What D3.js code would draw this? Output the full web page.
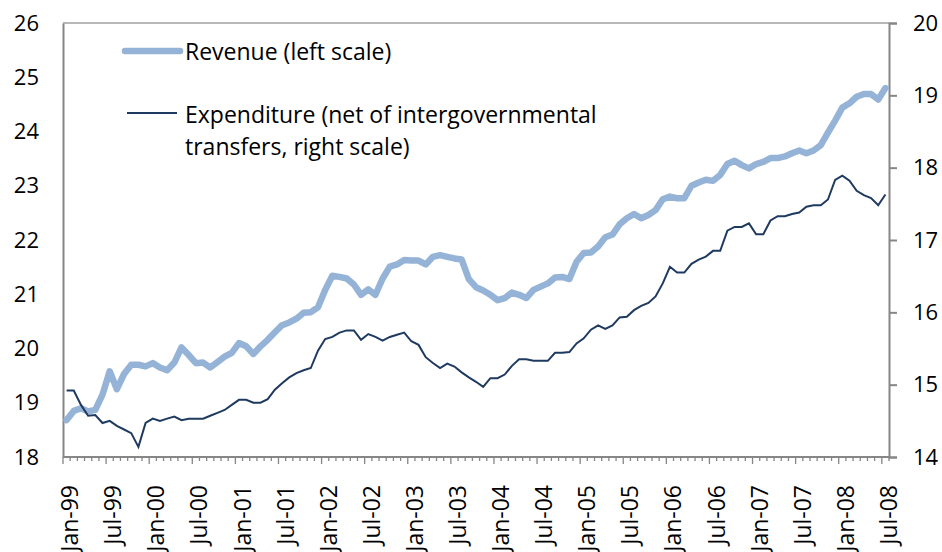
<!DOCTYPE html>
<html>
<head>
<meta charset="utf-8">
<script src="https://cdn.jsdelivr.net/npm/d3@7"></script>
<style>
  body { margin: 0; background: #fff; }
  svg text { font-family: "Open Sans", sans-serif; fill: #000; }
</style>
</head>
<body>
<div id="chart"></div>
<script>
// Monthly series, Jan-99 .. Jul-08
const revenue = [
  18.68, 18.85, 18.90, 18.84, 18.87, 19.15, 19.58, 19.25, 19.53, 19.70,
  19.70, 19.67, 19.73, 19.65, 19.60, 19.74, 20.02, 19.88, 19.73, 19.74,
  19.65, 19.75, 19.85, 19.92, 20.10, 20.04, 19.90, 20.04, 20.16, 20.30,
  20.43, 20.48, 20.55, 20.66, 20.67, 20.76, 21.08, 21.34, 21.32, 21.29,
  21.18, 20.99, 21.09, 20.99, 21.29, 21.51, 21.55, 21.63, 21.62, 21.62,
  21.55, 21.69, 21.72, 21.69, 21.66, 21.64, 21.28, 21.13, 21.07, 20.99,
  20.89, 20.93, 21.03, 20.99, 20.93, 21.08, 21.14, 21.20, 21.31, 21.32,
  21.28, 21.60, 21.76, 21.77, 21.88, 22.05, 22.10, 22.29, 22.40, 22.48,
  22.40, 22.46, 22.55, 22.75, 22.80, 22.77, 22.77, 23.00, 23.06, 23.11,
  23.09, 23.20, 23.40, 23.46, 23.38, 23.32, 23.40, 23.44, 23.51, 23.51,
  23.54, 23.60, 23.65, 23.60, 23.65, 23.75, 23.98, 24.20, 24.44, 24.52,
  24.64, 24.69, 24.69, 24.59, 24.80
];
const expenditure = [
  14.92, 14.92, 14.72, 14.57, 14.58, 14.47, 14.50, 14.43, 14.38, 14.33,
  14.14, 14.47, 14.53, 14.50, 14.53, 14.56, 14.51, 14.53, 14.53, 14.53,
  14.57, 14.61, 14.65, 14.72, 14.79, 14.79, 14.75, 14.75, 14.80, 14.93,
  15.02, 15.10, 15.16, 15.20, 15.23, 15.47, 15.63, 15.66, 15.72, 15.75,
  15.75, 15.62, 15.70, 15.66, 15.61, 15.66, 15.69, 15.72, 15.60, 15.55,
  15.38, 15.30, 15.23, 15.29, 15.25, 15.17, 15.10, 15.04, 14.97, 15.09,
  15.09, 15.14, 15.26, 15.35, 15.35, 15.33, 15.33, 15.33, 15.44, 15.44,
  15.45, 15.57, 15.64, 15.76, 15.82, 15.77, 15.82, 15.93, 15.94, 16.03,
  16.09, 16.13, 16.22, 16.40, 16.63, 16.55, 16.55, 16.67, 16.73, 16.77,
  16.85, 16.85, 17.13, 17.18, 17.18, 17.23, 17.08, 17.08, 17.27, 17.33,
  17.33, 17.36, 17.38, 17.46, 17.48, 17.48, 17.56, 17.83, 17.89, 17.82,
  17.68, 17.62, 17.58, 17.48, 17.63
];
const tickLabels = ["Jan-99", "Jul-99", "Jan-00", "Jul-00", "Jan-01", "Jul-01",
  "Jan-02", "Jul-02", "Jan-03", "Jul-03", "Jan-04", "Jul-04", "Jan-05", "Jul-05",
  "Jan-06", "Jul-06", "Jan-07", "Jul-07", "Jan-08", "Jul-08"];
const leftTicks = [18, 19, 20, 21, 22, 23, 24, 25, 26];
const rightTicks = [14, 15, 16, 17, 18, 19, 20];

const width = 942;
const height = 552;
const margin = { top: 23, right: 53, bottom: 95, left: 63 };

// one category per month
const months = d3.timeMonth.range(new Date(1999, 0, 1), new Date(2008, 7, 1));
const fmt = d3.timeFormat("%b-%y");

const svg = d3.select("#chart")
  .append("svg")
  .attr("width", width)
  .attr("height", height);

const x = d3.scaleBand()
  .domain(months.map(fmt))
  .range([margin.left, width - margin.right])
  .padding(0);
const yLeft = d3.scaleLinear().domain([18, 26]).range([height - margin.bottom, margin.top]);
const yRight = d3.scaleLinear().domain([14, 20]).range([height - margin.bottom, margin.top]);

const cx = (i) => x(fmt(months[i])) + x.bandwidth() / 2;

// top border of plot area
svg.append("line")
  .attr("x1", margin.left).attr("x2", width - margin.right)
  .attr("y1", margin.top).attr("y2", margin.top)
  .attr("stroke", "#b8b8b8").attr("stroke-width", 2);

// left axis: line only, labels
const gLeft = svg.append("g")
  .attr("transform", `translate(${margin.left},0)`)
  .call(d3.axisLeft(yLeft).tickValues(leftTicks).tickSize(0).tickPadding(24).tickFormat(d3.format("d")));

// right axis with outward ticks
const gRight = svg.append("g")
  .attr("transform", `translate(${width - margin.right},0)`)
  .call(d3.axisRight(yRight).tickValues(rightTicks).tickSize(8).tickPadding(16).tickFormat(d3.format("d")));

[gLeft, gRight].forEach(g => {
  g.select(".domain").attr("stroke", "#868686").attr("stroke-width", 2);
  g.selectAll(".tick line").attr("stroke", "#868686").attr("stroke-width", 2);
  g.selectAll(".tick text").attr("font-size", 22).attr("font-family", "Open Sans");
});

// bottom axis: monthly ticks at band edges, longer every 6 months
const edges = d3.range(months.length + 1);
const gBottom = svg.append("g");
gBottom.append("line")
  .attr("x1", margin.left).attr("x2", width - margin.right)
  .attr("y1", height - margin.bottom).attr("y2", height - margin.bottom)
  .attr("stroke", "#868686").attr("stroke-width", 2);
gBottom.selectAll("line.tk")
  .data(edges)
  .enter().append("line")
  .attr("class", "tk")
  .attr("x1", k => margin.left + k * x.step())
  .attr("x2", k => margin.left + k * x.step())
  .attr("y1", height - margin.bottom)
  .attr("y2", k => height - margin.bottom + (k % 6 === 0 ? 7 : 4))
  .attr("stroke", "#868686").attr("stroke-width", 1.3);

gBottom.selectAll("text.lbl")
  .data(tickLabels)
  .enter().append("text")
  .attr("class", "lbl")
  .attr("transform", d => `translate(${x(d) + x.bandwidth() / 2 + 3.5},${height - margin.bottom + 28}) rotate(-90)`)
  .attr("text-anchor", "end")
  .attr("dy", "0.35em")
  .attr("font-size", 23)
  .text(d => d);

// series
const revLine = d3.line().x((d, i) => cx(i)).y(d => yLeft(d));
const expLine = d3.line().x((d, i) => cx(i)).y(d => yRight(d));

svg.append("path")
  .datum(revenue)
  .attr("d", revLine)
  .attr("fill", "none")
  .attr("stroke", "#95b3d7")
  .attr("stroke-width", 6.5)
  .attr("stroke-linejoin", "round")
  .attr("stroke-linecap", "round");

svg.append("path")
  .datum(expenditure)
  .attr("d", expLine)
  .attr("fill", "none")
  .attr("stroke", "#1f3a60")
  .attr("stroke-width", 2);

// legend
const legend = svg.append("g");
legend.append("line")
  .attr("x1", 125).attr("x2", 180).attr("y1", 51).attr("y2", 51)
  .attr("stroke", "#95b3d7").attr("stroke-width", 6.5).attr("stroke-linecap", "round");
legend.append("text")
  .attr("x", 185).attr("y", 60).attr("font-size", 23)
  .text("Revenue (left scale)");
legend.append("line")
  .attr("x1", 127).attr("x2", 177).attr("y1", 113).attr("y2", 113)
  .attr("stroke", "#1f3a60").attr("stroke-width", 2);
legend.append("text")
  .attr("x", 185).attr("y", 123).attr("font-size", 23)
  .text("Expenditure (net of intergovernmental");
legend.append("text")
  .attr("x", 185).attr("y", 155).attr("font-size", 23)
  .text("transfers, right scale)");
</script>
</body>
</html>
